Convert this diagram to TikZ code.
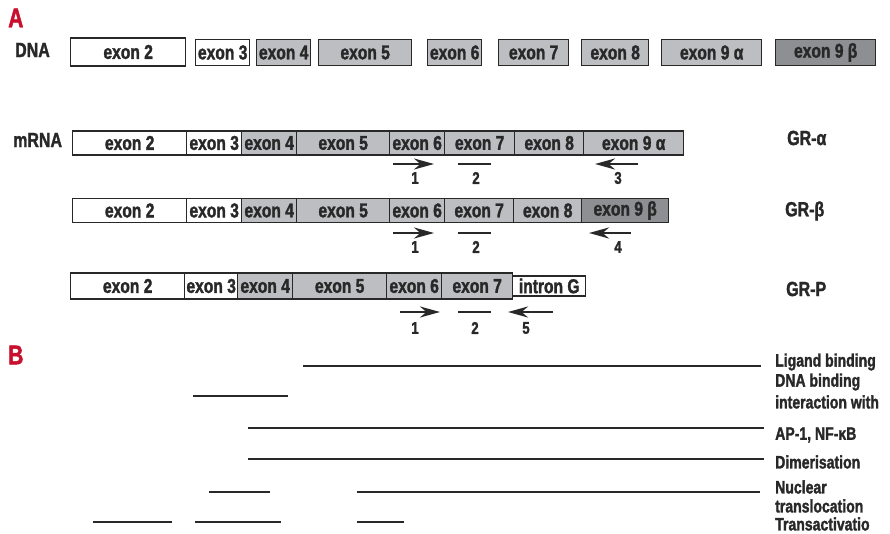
\documentclass[tikz,border=0pt]{standalone}
\usepackage{fontspec}
\setmainfont{Liberation Sans}[FakeStretch=0.78, BoldFeatures={FakeBold=1.6}]
\usetikzlibrary{arrows.meta}

\definecolor{exongray}{RGB}{189,190,194}
\definecolor{exondark}{RGB}{142,143,147}
\definecolor{edgegray}{RGB}{40,40,40}
\definecolor{panelred}{RGB}{200,16,46}

\tikzset{
  exonbox/.style={draw=edgegray, line width=1.4pt, fill=exongray, anchor=west,
    inner sep=0pt, minimum height=24pt, text=edgegray, font=\bfseries\fontsize{20}{20}\selectfont},
  rowlabel/.style={anchor=west, inner sep=0pt, text=edgegray, font=\bfseries\fontsize{20.5}{20.5}\selectfont},
  primer/.style={line width=2.6pt, edgegray},
  primerarrow/.style={primer, -{Stealth[length=20pt,width=11pt]}},
  primernum/.style={inner sep=0pt, text=edgegray, font=\bfseries\fontsize{17}{17}\selectfont},
  domainbar/.style={line width=2.6pt, edgegray},
  domainlabel/.style={anchor=west, inner sep=0pt, text=edgegray, font=\bfseries\fontsize{18}{18}\selectfont}
}

\begin{document}
\begin{tikzpicture}[x=1pt, y=-1pt]
\useasboundingbox (0,0) rectangle (890,534);

\node[anchor=west, inner sep=0pt, text=panelred, font=\bfseries\fontsize{27}{27}\selectfont] (pa) at (8,18) {A};
\node[anchor=west, inner sep=0pt, text=panelred, font=\bfseries\fontsize{27}{27}\selectfont] (pb) at (8,355) {B};

% genomic DNA
\node[rowlabel] (dna) at (15,50) {DNA};
\node[exonbox, fill=white, minimum width=115pt, minimum height=28pt] (d2) at (70,52) {exon 2};
\node[exonbox, fill=white, minimum width=54pt, minimum height=26pt] (d3) at (195,52.5) {exon 3};
\node[exonbox, minimum width=54pt, minimum height=26pt] (d4) at (256,52.5) {exon 4};
\node[exonbox, minimum width=93pt, minimum height=26pt] (d5) at (318,52.5) {exon 5};
\node[exonbox, minimum width=54pt, minimum height=26pt] (d6) at (427,52.5) {exon 6};
\node[exonbox, minimum width=70pt, minimum height=26pt] (d7) at (498,52.5) {exon 7};
\node[exonbox, minimum width=67pt, minimum height=26pt] (d8) at (581,52.5) {exon 8};
\node[exonbox, minimum width=100pt, minimum height=26pt] (d9a) at (661,52.5) {exon 9 α};
\node[exonbox, fill=exondark, minimum width=100pt, minimum height=26pt] (d9b) at (775,52.5) {exon 9 β};

% GR-alpha mRNA
\node[rowlabel] (mrna) at (13,140) {mRNA};
\node[exonbox, fill=white, minimum width=114pt] (a2) at (72,143) {exon 2};
\node[exonbox, fill=white, minimum width=55pt] (a3) at (186,143) {exon 3};
\node[exonbox, minimum width=55pt] (a4) at (241,143) {exon 4};
\node[exonbox, minimum width=93pt] (a5) at (296,143) {exon 5};
\node[exonbox, minimum width=55pt] (a6) at (389,143) {exon 6};
\node[exonbox, minimum width=70pt] (a7) at (444,143) {exon 7};
\node[exonbox, minimum width=69pt] (a8) at (514,143) {exon 8};
\node[exonbox, minimum width=100pt] (a9) at (583,143) {exon 9 α};
\node[rowlabel] (gra) at (787,138) {GR-α};

\draw[primerarrow] (393,164) -- (434,164);
\draw[primer] (458,164) -- (491,164);
\draw[primerarrow] (638,164) -- (595,164);
\node[primernum] (a1n) at (415,178) {1};
\node[primernum] (a2n) at (476,178) {2};
\node[primernum] (a3n) at (618,178) {3};

% GR-beta mRNA
\node[exonbox, fill=white, minimum width=114pt] (b2) at (72,210.5) {exon 2};
\node[exonbox, fill=white, minimum width=55pt] (b3) at (186,210.5) {exon 3};
\node[exonbox, minimum width=55pt] (b4) at (241,210.5) {exon 4};
\node[exonbox, minimum width=93pt] (b5) at (296,210.5) {exon 5};
\node[exonbox, minimum width=55pt] (b6) at (389,210.5) {exon 6};
\node[exonbox, minimum width=69pt] (b7) at (444,210.5) {exon 7};
\node[exonbox, minimum width=68pt] (b8) at (513,210.5) {exon 8};
\node[exonbox, fill=exondark, minimum width=87pt] (b9) at (581,210.5) {exon 9 β};
\node[rowlabel] (grb) at (785,211) {GR-β};

\draw[primerarrow] (393,233) -- (434,233);
\draw[primer] (458,233) -- (491,233);
\draw[primerarrow] (631,233) -- (589,233);
\node[primernum] (b1n) at (415,247) {1};
\node[primernum] (b2n) at (476,247) {2};
\node[primernum] (b4n) at (618,247) {4};

% GR-P mRNA
\node[exonbox, fill=white, minimum width=114pt, minimum height=26pt] (p2) at (70,286) {exon 2};
\node[exonbox, fill=white, minimum width=53pt, minimum height=26pt] (p3) at (184,286) {exon 3};
\node[exonbox, minimum width=55pt, minimum height=26pt] (p4) at (237,286) {exon 4};
\node[exonbox, minimum width=94pt, minimum height=26pt] (p5) at (292,286) {exon 5};
\node[exonbox, minimum width=55pt, minimum height=26pt] (p6) at (386,286) {exon 6};
\node[exonbox, minimum width=71pt, minimum height=26pt] (p7) at (441,286) {exon 7};
\node[exonbox, fill=white, minimum width=73pt, minimum height=20pt] (pg) at (512,286) {intron G};
\node[rowlabel] (grp) at (786,289) {GR-P};

\draw[primerarrow] (400,312) -- (440,312);
\draw[primer] (458,312) -- (491,312);
\draw[primerarrow] (553,312) -- (508,312);
\node[primernum] (p1n) at (415,328) {1};
\node[primernum] (p2n) at (475,328) {2};
\node[primernum] (p5n) at (526,328) {5};

% functional domains
\draw[domainbar] (303,366) -- (761,366);
\draw[domainbar] (193,396) -- (288,396);
\draw[domainbar] (248,428) -- (764,428);
\draw[domainbar] (248,459) -- (764,459);
\draw[domainbar] (209,492) -- (270,492);
\draw[domainbar] (357,492) -- (760,492);
\draw[domainbar] (93,522) -- (172,522);
\draw[domainbar] (195,522) -- (281,522);
\draw[domainbar] (357,522) -- (404,522);

\node[domainlabel] (lig) at (775,362) {Ligand binding};
\node[domainlabel] (dbd) at (775,382) {DNA binding};
\node[domainlabel] (inter) at (775,402) {interaction with};
\node[domainlabel] (ap) at (775,435) {AP-1, NF-κB};
\node[domainlabel] (dim) at (775,462) {Dimerisation};
\node[domainlabel] (nuc) at (775,487) {Nuclear};
\node[domainlabel] (trl) at (775,506) {translocation};
\node[domainlabel] (tra) at (775,524) {Transactivatio};
\end{tikzpicture}
\end{document}
